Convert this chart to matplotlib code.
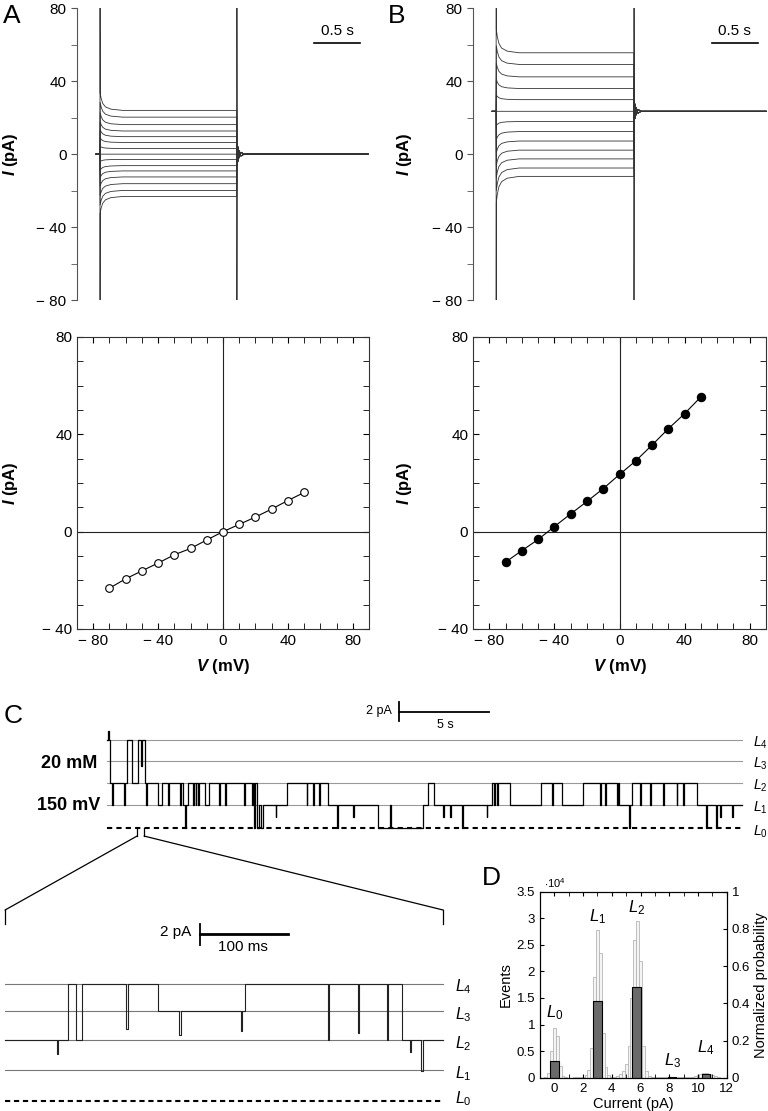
import numpy as np
import matplotlib.pyplot as plt
from matplotlib.patches import ConnectionPatch
from matplotlib.ticker import MultipleLocator, FixedLocator, FixedFormatter, FormatStrFormatter

plt.rcParams['font.family'] = ['Liberation Sans', 'DejaVu Sans']
plt.rcParams['mathtext.fontset'] = 'custom'
plt.rcParams['mathtext.rm'] = 'Liberation Sans'
plt.rcParams['mathtext.it'] = 'Liberation Sans:italic'
plt.rcParams['mathtext.bf'] = 'Liberation Sans:bold:italic'

# ---- A / B : current families (steady-state levels, pA) ----
levels_a = [-23.2, -19.9, -16.2, -12.5, -9.2, -6.3, -2.9, 0.0, 3.1, 6.4, 9.6, 12.7, 16.2, 20.3, 24.0]
levels_b = [-12.2, -7.6, -2.6, 2.2, 7.2, 12.4, 17.9, 23.5, 29.9, 36.0, 42.4, 49.2, 55.6]
hold_a = 0.0
hold_b = 23.5
t_pre, t_off, t_end = -0.044, 1.5, 2.94
relax_t = [0.002, 0.012, 0.03, 0.06, 0.12, 0.25]      # s after step
relax_f = [1.0, 0.7, 0.4, 0.2, 0.07, 0.0]             # fraction of overshoot left
ring_t = [0.004, 0.012, 0.025, 0.045, 0.08]
ring_v = [-6.0, 4.0, -2.0, 1.0, 0.0]

# ---- I-V curves ----
iv_v = [-70, -60, -50, -40, -30, -20, -10, 0, 10, 20, 30, 40, 50]
iv_a = [-23.2, -19.4, -16.1, -12.9, -9.5, -6.9, -3.4, 0.0, 3.0, 6.0, 9.3, 12.8, 16.1]
iv_b = [-12.5, -7.8, -3.2, 2.1, 7.3, 12.4, 17.7, 23.5, 29.1, 35.6, 42.3, 48.5, 55.4]

# ---- C : single channel levels (pA) ----
lv = [0.0, 3.0, 5.9, 8.7, 11.4]
lv_names = [r'$\mathit{L_0}$', r'$\mathit{L_1}$', r'$\mathit{L_2}$', r'$\mathit{L_3}$', r'$\mathit{L_4}$']

# long record (s): segment start times and level index
up_seg_t = [0.0, 0.17, 1.13, 1.37, 1.74, 2.11, 2.82, 3.03, 4.24, 4.52, 5.44, 5.68, 8.32, 8.42,
            8.56, 8.67, 9.98, 12.26, 15.03, 17.56, 17.83, 18.17, 21.37, 22.39, 24.09, 25.26,
            26.46, 28.42, 29.14, 32.75]
up_seg_l = [4, 2, 4, 2, 4, 2, 1, 2, 1, 2, 1, 2, 0, 1,
            0, 1, 2, 1, 0, 1, 2, 1, 2, 1, 2, 1,
            2, 1, 2, 1]
up_end = 35.28
up_spk_t = [0.05, 0.28, 0.96, 1.9, 2.17, 3.39, 4.06, 4.33, 4.78, 4.92, 5.06, 6.24, 6.56, 7.61,
            8.06, 8.19, 9.37, 11.09, 11.44, 11.78, 12.79, 13.67, 15.72, 18.68, 19.06, 19.71,
            21.09, 21.5, 21.67, 24.72, 27.39, 27.67, 28.32, 29.0, 29.61, 30.17, 30.89, 31.65,
            32.02, 33.28, 33.83, 34.06, 34.71]
up_spk_v = [12.5, 3.0, 3.0, 8.0, 3.0, 3.0, 3.0, 0.0, 3.0, 3.0, 3.0, 3.0, 3.0, 3.0,
            3.0, 0.0, 1.5, 3.0, 3.0, 3.0, 0.0, 1.5, 3.0, 1.5, 1.5, 0.0,
            1.5, 3.0, 3.0, 3.0, 3.0, 3.0, 3.0, 0.0, 3.0, 3.0, 3.0, 3.0,
            3.0, 0.0, 0.0, 1.5, 1.5]
zoom_win = [1.67, 2.06]

# expanded record (ms)
low_seg_t = [0, 72, 81, 87, 174, 273, 451]
low_seg_l = [2, 4, 2, 4, 3, 4, 2]
low_end = 498
low_spk_t = [59, 138, 198, 268, 367, 401, 434, 460, 473]
low_spk_v = [4.6, 7.0, 6.4, 6.8, 5.9, 6.6, 5.9, 4.8, 2.9]

# ---- D : amplitude histogram ----
hist_counts = [0.01, 0.08, 0.5, 0.93, 0.78, 0.22, 0.04, 0.01, 0.0, 0.0, 0.005, 0.01,
               0.01, 0.02, 0.05, 0.14, 0.55, 1.9, 2.77, 2.35, 0.85, 0.2, 0.05, 0.02,
               0.02, 0.04, 0.07, 0.12, 0.25, 0.6, 1.5, 2.6, 2.94, 2.2, 0.6, 0.12,
               0.03, 0.01, 0.005, 0.005, 0.005, 0.005, 0.01, 0.015, 0.02, 0.015, 0.01, 0.01,
               0.01, 0.01, 0.01, 0.02, 0.03, 0.05, 0.07, 0.08, 0.08, 0.07, 0.05, 0.03, 0.01]
hist_start, hist_bin = -0.6, 0.2
state_current = [0.0, 3.0, 5.7, 8.2, 10.55]
state_prob = [0.09, 0.41, 0.49, 0.006, 0.018]
state_label_y = [1.22, 3.03, 3.2, 0.32, 0.56]

W, H = 768, 1111
fig = plt.figure(figsize=(W / 100, H / 100), dpi=100)


def box(l, t, r, b):
    return [l / W, 1 - b / H, (r - l) / W, (b - t) / H]


def minus(v):
    return '\u2212 %d' % abs(v) if v < 0 else '%d' % v


def family(ax, levels, hold):
    lo, hi = min(levels), max(levels)
    for ss in levels:
        sgn = np.sign(ss - hold)
        ov = 0.4 * (ss - hold)
        # the clipped capacitive spike is drawn once, by the outermost traces
        cap = 200 * sgn if ss in (lo, hi) else 0.0
        t = [t_pre, 0.0, 0.0] + relax_t + [t_off, t_off] + [t_off + r for r in ring_t] + [t_end]
        v = ([hold, hold, hold + cap] + [ss + ov * f for f in relax_f] + [ss, hold - cap]
             + [hold + r * (sgn if sgn else 1) for r in ring_v] + [hold])
        ax.plot(t, v, color='#333333', lw=0.6)
    ax.set_xlim(-0.252, 2.96)
    ax.set_ylim(-80, 80)
    for s in ['top', 'right', 'bottom']:
        ax.spines[s].set_visible(False)
    ax.spines['left'].set_color('#555555')
    ax.set_xticks([])
    ax.yaxis.set_major_locator(FixedLocator([-80, -40, 0, 40, 80]))
    ax.yaxis.set_major_formatter(FixedFormatter([minus(x) for x in [-80, -40, 0, 40, 80]]))
    ax.yaxis.set_minor_locator(MultipleLocator(20))
    ax.tick_params(axis='y', which='both', direction='out', length=4, color='#555555', labelsize=11)
    ax.plot([2.35, 2.85], [61, 61], color='k', lw=1.2)
    ax.text(2.6, 63.5, '0.5 s', ha='center', va='bottom', fontsize=11)
    ax.set_ylabel(r'$\mathbf{I}$ (pA)', fontweight='bold', fontsize=12)


def ivplot(ax, y, filled):
    ax.axhline(0, color='#222222', lw=0.8)
    ax.axvline(0, color='#222222', lw=0.8)
    ax.plot(iv_v, y, '-o', color='k', lw=0.8, ms=5.5 if not filled else 6,
            mfc='k' if filled else 'white', mew=0.8)
    ax.set_xlim(-90, 90)
    ax.set_ylim(-40, 80)
    ax.xaxis.set_major_locator(FixedLocator([-80, -40, 0, 40, 80]))
    ax.xaxis.set_major_formatter(FixedFormatter([minus(x) for x in [-80, -40, 0, 40, 80]]))
    ax.yaxis.set_major_locator(FixedLocator([-40, 0, 40, 80]))
    ax.yaxis.set_major_formatter(FixedFormatter([minus(x) for x in [-40, 0, 40, 80]]))
    ax.xaxis.set_minor_locator(MultipleLocator(10))
    ax.yaxis.set_minor_locator(MultipleLocator(10))
    ax.tick_params(which='both', direction='in', top=True, right=True, length=4, labelsize=11)
    for s in ax.spines.values():
        s.set_color('#333333')
    ax.set_ylabel(r'$\mathbf{I}$ (pA)', fontweight='bold', fontsize=12)
    ax.set_xlabel(r'$\mathbf{V}$ (mV)', fontweight='bold', fontsize=12)


ax_a = fig.add_axes(box(77, 8.3, 370, 300))
family(ax_a, levels_a, hold_a)
ax_a.yaxis.set_label_coords(-0.195, 0.5)
ax_b = fig.add_axes(box(473, 8.3, 768, 300))
family(ax_b, levels_b, hold_b)
ax_b.yaxis.set_label_coords(-0.2, 0.5)

ax_ia = fig.add_axes(box(77, 337, 369, 629))
ivplot(ax_ia, iv_a, False)
ax_ia.yaxis.set_label_coords(-0.195, 0.5)
ax_ib = fig.add_axes(box(473, 337, 766, 629))
ivplot(ax_ib, iv_b, True)
ax_ib.yaxis.set_label_coords(-0.2, 0.5)
for ax in (ax_ia, ax_ib):
    ax.xaxis.set_label_coords(0.5, -0.095)


def trace(seg_t, seg_l, t_end, spk_t, spk_v, w):
    bounds = list(seg_t) + [t_end]
    tt, vv = [], []
    for i, li in enumerate(seg_l):
        t0, t1 = bounds[i], bounds[i + 1]
        base = lv[li]
        tt.append(t0)
        vv.append(base)
        for st, sv in sorted(zip(spk_t, spk_v)):
            if t0 <= st < t1:
                tt += [st, st, st + w, st + w]
                vv += [base, sv, sv, base]
        tt.append(t1)
        vv.append(base)
    return tt, vv


# ---- C upper ----
ax_u = fig.add_axes(box(100, 695, 745, 840))
ax_u.axis('off')
ax_u.set_xlim(-0.389, 35.44)
ax_u.set_ylim(-1.51, 17.2)
for i in range(1, 5):
    ax_u.plot([0, up_end], [lv[i], lv[i]], color='#999999', lw=0.8)
ax_u.plot([0, up_end], [0, 0], color='k', lw=1.5, dashes=(2.5, 2))
for i in range(5):
    ax_u.text(35.9, lv[i] - 0.4, lv_names[i], va='center', fontsize=10, clip_on=False)
tu, vu = trace(up_seg_t, up_seg_l, up_end, up_spk_t, up_spk_v, 0.04)
ax_u.plot(tu, vu, color='k', lw=0.9)
ax_u.plot([16.2, 16.2], [13.9, 16.35], color='k', lw=1.3)
ax_u.plot([16.2, 21.2], [15.0, 15.0], color='k', lw=1.3)
ax_u.text(15.8, 15.1, '2 pA', ha='right', va='center', fontsize=9)
ax_u.text(18.8, 13.3, '5 s', ha='center', va='center', fontsize=9)
for zt in zoom_win:
    ax_u.plot([zt, zt], [0, -1.0], color='k', lw=0.9)

# ---- C lower (expanded) ----
ax_l = fig.add_axes(box(0, 905, 450, 1108))
ax_l.axis('off')
ax_l.set_xlim(-5.68, 505.7)
ax_l.set_ylim(-0.68, 19.03)
for i in range(1, 5):
    ax_l.plot([0, low_end], [lv[i], lv[i]], color='#777777', lw=0.8)
ax_l.plot([0, low_end], [0, 0], color='k', lw=1.5, dashes=(2.5, 1.8))
for i in range(5):
    ax_l.text(511, lv[i] + (0.2 if i == 0 else -0.3), lv_names[i], va='center',
              fontsize=11.5, clip_on=False)
tl, vl = trace(low_seg_t, low_seg_l, low_end, low_spk_t, low_spk_v, 1.5)
ax_l.plot(tl, vl, color='#222222', lw=0.8)
ax_l.plot([221.6, 221.6], [15.15, 17.18], color='k', lw=1.3)
ax_l.plot([221.6, 321.6], [16.18, 16.18], color='k', lw=2)
ax_l.text(212, 16.4, '2 pA', ha='right', va='center', fontsize=11)
ax_l.text(270, 15.0, '100 ms', ha='center', va='center', fontsize=11)
for xe in (0, low_end):
    ax_l.plot([xe, xe], [18.54, 17.18], color='k', lw=0.9)
for za, zb in zip(zoom_win, (0, low_end)):
    con = ConnectionPatch(xyA=(za, -1.0), coordsA='data', axesA=ax_u,
                          xyB=(zb, 18.54), coordsB='data', axesB=ax_l, color='k', lw=0.9)
    fig.add_artist(con)

# ---- D histogram ----
ax_d = fig.add_axes(box(540, 891.7, 726.7, 1077.7))
centers = hist_start + hist_bin * np.arange(len(hist_counts))
ax_d.bar(centers, hist_counts, width=hist_bin, color='#f4f4f4', edgecolor='#b5b5b5', lw=0.6)
ax_d.set_xlim(-1, 12)
ax_d.set_ylim(0, 3.5)
ax_d.xaxis.set_major_locator(MultipleLocator(2))
ax_d.xaxis.set_minor_locator(MultipleLocator(1))
ax_d.yaxis.set_major_locator(MultipleLocator(0.5))
ax_d.yaxis.set_major_formatter(FormatStrFormatter('%g'))
ax_d.tick_params(which='both', direction='in', top=True, length=3, labelsize=9.5)
ax_d.set_xlabel('Current (pA)', fontsize=10.5, labelpad=2)
ax_d.set_ylabel('Events', fontsize=10.5, labelpad=3)
ax_d.text(0.02, 1.01, r'$\cdot$10$^4$', transform=ax_d.transAxes, fontsize=8, va='bottom')
ax_p = ax_d.twinx()
ax_p.bar(state_current, state_prob, width=0.6, color='#6a6a6a', edgecolor='k', lw=0.8)
ax_p.set_ylim(0, 1)
ax_p.yaxis.set_major_locator(MultipleLocator(0.2))
ax_p.yaxis.set_major_formatter(FormatStrFormatter('%g'))
ax_p.tick_params(which='both', direction='in', length=3, labelsize=9.5)
ax_p.set_ylabel('Normalized probability', fontsize=10.5, labelpad=3)
for x, y, name in zip(state_current, state_label_y, lv_names):
    ax_p.text(x, y / 3.5, name, ha='center', va='center', fontsize=12)

# ---- panel letters and condition labels ----
fig.text(3 / W, 1 - 16 / H, 'A', fontsize=19, va='center')
fig.text(388 / W, 1 - 16 / H, 'B', fontsize=19, va='center')
fig.text(4 / W, 1 - 716 / H, 'C', fontsize=19, va='center')
fig.text(482 / W, 1 - 878 / H, 'D', fontsize=19, va='center')
fig.text(97 / W, 1 - 764 / H, '20 mM', fontsize=13, fontweight='bold', ha='right', va='center')
fig.text(100 / W, 1 - 805 / H, '150 mV', fontsize=13, fontweight='bold', ha='right', va='center')

fig.savefig('out.png', dpi=100)
